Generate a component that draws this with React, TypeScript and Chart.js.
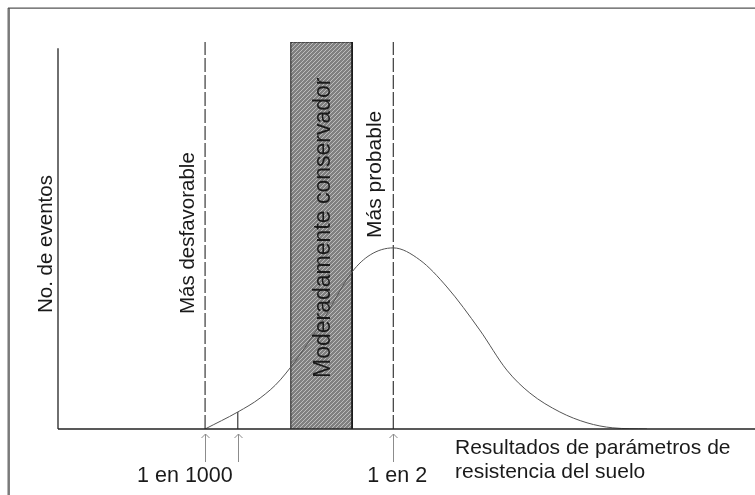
import React, { useEffect, useRef } from "react";
import { Chart, registerables } from "chart.js";

Chart.register(...registerables);

// Distribution curve (x: result of soil strength parameter, y: number of events)
const curveX = [21.1, 25.8, 29.0, 31.9, 37.6, 42.2, 44.8, 48.1, 51.9, 55.8, 60.5, 64.4, 67.7, 72.0, 75.9, 79.6, 84.5];
const curveY = [0, 4.4, 8.0, 12.7, 26.9, 40.6, 45.0, 46.8, 43.7, 36.7, 25.6, 15.2, 9.3, 4.4, 1.6, 0.3, 0];

// Key values on the x axis
const worstX = 21.1; // Más desfavorable (1 en 1000)
const marker2X = 25.8;
const marker2Y = 4.4;
const probableX = 48.1; // Más probable (1 en 2)
const bandX = [33.4, 42.2]; // Moderadamente conservador
const topY = 100;
const yAxisTop = 98.4;
const arrowXs = [worstX, marker2X, probableX];

const labelWorst = "Más desfavorable";
const labelBand = "Moderadamente conservador";
const labelProbable = "Más probable";
const labelY = "No. de eventos";
const labelX1 = "Resultados de parámetros de";
const labelX2 = "resistencia del suelo";
const tick1000 = "1 en 1000";
const tick2 = "1 en 2";

const FONT = '"Liberation Sans", Arial, sans-serif';

function makeHatch(ctx: CanvasRenderingContext2D) {
  const c = document.createElement("canvas");
  c.width = 4;
  c.height = 4;
  const g = c.getContext("2d")!;
  g.fillStyle = "#808080";
  g.fillRect(0, 0, 4, 4);
  g.strokeStyle = "#bdbdbd";
  g.lineWidth = 1;
  g.beginPath();
  g.moveTo(0, 4);
  g.lineTo(4, 0);
  g.moveTo(-1, 1);
  g.lineTo(1, -1);
  g.moveTo(3, 5);
  g.lineTo(5, 3);
  g.stroke();
  return ctx.createPattern(c, "repeat")!;
}

export default function App() {
  const ref = useRef<HTMLCanvasElement | null>(null);

  useEffect(() => {
    const canvas = ref.current!;
    const ctx = canvas.getContext("2d")!;
    const hatch = makeHatch(ctx);

    const decor = {
      id: "decor",
      beforeDraw(chart: any) {
        const c = chart.ctx;
        c.save();
        c.fillStyle = "#ffffff";
        c.fillRect(0, 0, chart.width, chart.height);
        c.strokeStyle = "#7a7a7a";
        c.lineWidth = 2.5;
        c.beginPath();
        c.moveTo(8.7, 8);
        c.lineTo(8.7, chart.height);
        c.stroke();
        c.strokeStyle = "#555";
        c.lineWidth = 1.2;
        c.beginPath();
        c.moveTo(8, 8.2);
        c.lineTo(chart.width, 8.2);
        c.stroke();
        c.restore();
      },
      afterDraw(chart: any) {
        const c = chart.ctx;
        const xs = chart.scales.x;
        const ys = chart.scales.y;
        const base = ys.getPixelForValue(0);
        c.save();
        // arrows
        c.strokeStyle = "#8c8c8c";
        c.lineWidth = 1;
        arrowXs.forEach((v) => {
          const px = Math.round(xs.getPixelForValue(v)) + 0.5;
          c.beginPath();
          c.moveTo(px, base + 5);
          c.lineTo(px, base + 33);
          c.moveTo(px - 4, base + 9);
          c.lineTo(px, base + 5);
          c.lineTo(px + 4, base + 9);
          c.stroke();
        });
        c.fillStyle = "#1a1a1a";
        c.font = `21.5px ${FONT}`;
        c.textBaseline = "alphabetic";
        c.textAlign = "left";
        c.fillText(tick1000, xs.getPixelForValue(worstX) - 68, base + 53);
        c.textAlign = "center";
        c.fillText(tick2, xs.getPixelForValue(probableX) + 4, base + 53);
        c.textAlign = "left";
        c.font = `21px ${FONT}`;
        c.fillText(labelX1, 455, base + 25);
        c.fillText(labelX2, 455, base + 49);

        const vtext = (t: string, x: number, y: number, size: number) => {
          c.save();
          c.translate(x, y);
          c.rotate(-Math.PI / 2);
          c.font = `${size}px ${FONT}`;
          c.textAlign = "left";
          c.textBaseline = "alphabetic";
          c.fillText(t, 0, 0);
          c.restore();
        };
        vtext(labelY, 52, 313, 20.5);
        vtext(labelWorst, xs.getPixelForValue(worstX) - 11, 314, 20.5);
        vtext(labelBand, (xs.getPixelForValue(bandX[0]) + xs.getPixelForValue(bandX[1])) / 2 + 9, 378, 23);
        vtext(labelProbable, xs.getPixelForValue(probableX) - 12, 238, 21);
        c.restore();
      },
    };

    const chart = new Chart(canvas, {
      type: "scatter",
      data: {
        datasets: [
          {
            label: "band",
            data: [
              { x: bandX[0], y: 0 },
              { x: bandX[0], y: topY },
              { x: bandX[1], y: topY },
              { x: bandX[1], y: 0 },
            ],
            showLine: true,
            borderColor: "#111",
            borderWidth: 1,
            backgroundColor: hatch,
            fill: "origin",
            pointRadius: 0,
            order: 5,
          } as any,
          {
            label: "worst",
            data: [
              { x: worstX, y: 0 },
              { x: worstX, y: topY },
            ],
            showLine: true,
            borderColor: "#111",
            borderWidth: 1,
            borderDash: [14, 3],
            pointRadius: 0,
            order: 4,
          },
          {
            label: "probable",
            data: [
              { x: probableX, y: 0 },
              { x: probableX, y: topY },
            ],
            showLine: true,
            borderColor: "#111",
            borderWidth: 1,
            borderDash: [14, 3],
            pointRadius: 0,
            order: 4,
          },
          {
            label: "marker",
            data: [
              { x: marker2X, y: 0 },
              { x: marker2X, y: marker2Y },
            ],
            showLine: true,
            borderColor: "#111",
            borderWidth: 1,
            pointRadius: 0,
            order: 3,
          },
          {
            label: "curve",
            data: curveX.map((x, i) => ({ x, y: curveY[i] })),
            showLine: true,
            borderColor: "#555",
            borderWidth: 1,
            cubicInterpolationMode: "monotone",
            pointRadius: 0,
            order: 2,
          },
          {
            label: "yaxis",
            data: [
              { x: 0, y: 0 },
              { x: 0, y: yAxisTop },
            ],
            showLine: true,
            borderColor: "#222",
            borderWidth: 1.3,
            pointRadius: 0,
            clip: false,
            order: 1,
          } as any,
          {
            label: "xaxis",
            data: [
              { x: 0, y: 0 },
              { x: 100, y: 0 },
            ],
            showLine: true,
            borderColor: "#222",
            borderWidth: 1.3,
            pointRadius: 0,
            clip: false,
            order: 1,
          } as any,
        ],
      },
      options: {
        animation: false,
        responsive: false,
        events: [],
        layout: { padding: { left: 58, top: 42, right: 0, bottom: 66 } },
        plugins: { legend: { display: false }, tooltip: { enabled: false }, title: { display: false } },
        scales: {
          x: { type: "linear", min: 0, max: 100, display: false },
          y: { type: "linear", min: 0, max: 100, display: false },
        },
      },
      plugins: [decor],
    });
    return () => chart.destroy();
  }, []);

  return (
    <div style={{ position: "fixed", left: 0, top: 0, width: 755, height: 495, overflow: "hidden" }}>
      <canvas ref={ref} width={755} height={495} style={{ display: "block", width: 755, height: 495 }} />
    </div>
  );
}
